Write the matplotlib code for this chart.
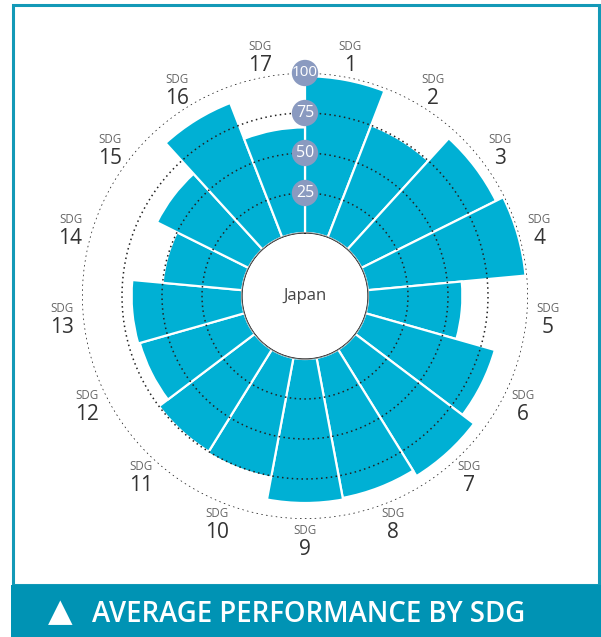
import numpy as np
import matplotlib.pyplot as plt
from matplotlib.patches import Rectangle

# Wartości (Japonia, średni wynik dla każdego SDG)
sdg_labels = [str(i) for i in range(1, 18)]
scores = [98, 75, 94, 99, 59, 84, 93, 89, 90, 76, 75, 68, 69, 50, 64, 90, 66]
ring_values = [25, 50, 75, 100]
country = "Japan"
title = "AVERAGE PERFORMANCE BY SDG"

bar_color = '#00B0D4'
frame_color = '#1399B7'
banner_color = '#0093B4'
badge_color = '#8A9AC0'

plt.rcParams['font.family'] = ['Open Sans', 'DejaVu Sans']

fig = plt.figure(figsize=(6.01, 6.37), dpi=100)

# Ramka i pasek tytułu
fig.add_artist(Rectangle((12.5 / 601, 52 / 637), 586.5 / 601, 580.5 / 637,
                         transform=fig.transFigure, fill=False,
                         edgecolor=frame_color, linewidth=2.2))
fig.add_artist(Rectangle((11 / 601, 0), 590 / 601, 52 / 637,
                         transform=fig.transFigure, facecolor=banner_color,
                         edgecolor='none'))
fig.text(60.5 / 601, 24 / 637, '▲', color='white', fontsize=23,
         ha='center', va='center', family='DejaVu Sans')
fig.text(92 / 601, 23 / 637, title, color='white', fontsize=19.8,
         fontweight='semibold', ha='left', va='center')

# Wykres biegunowy: środek (305, 296), promień 100 -> 223 px
ax = fig.add_axes([82 / 601, 118 / 637, 446 / 601, 446 / 637], projection='polar')
ax.set_theta_zero_location('N')
ax.set_theta_direction(-1)
ax.set_rorigin(-39.375)
ax.set_ylim(0, 100)

n = len(scores)
width = 2 * np.pi / n
theta = np.arange(n) * width
ax.bar(theta, scores, width=width, bottom=0, align='edge', color=bar_color,
       edgecolor='white', linewidth=1.6, zorder=2)

# Kropkowane okręgi
full = np.linspace(0, 2 * np.pi, 400)
for v in ring_values:
    ax.plot(full, [v] * len(full), color='#222222', linewidth=1.1,
            linestyle=(0, (1, 2.2)), zorder=3)
ax.plot(full, [0] * len(full), color='#b0b0b0', linewidth=0.8, zorder=3)

# Etykiety skali w kółkach
ax.scatter([0] * len(ring_values), ring_values, s=360, color=badge_color,
           zorder=5, clip_on=False, edgecolors='none')
for v in ring_values:
    ax.text(0, v, str(v), color='white', fontsize=11 if v == 100 else 11.5,
            ha='center', va='center', zorder=6)

# Etykiety SDG
for t, lab in zip(theta + width / 2, sdg_labels):
    ax.annotate('SDG', (t, 113), xytext=(0, 9.5), textcoords='offset pixels',
                ha='center', va='center', fontsize=8.3, color='#666666',
                annotation_clip=False)
    ax.annotate(lab, (t, 113), xytext=(0, -9.5), textcoords='offset pixels',
                ha='center', va='center', fontsize=15, color='#333333',
                annotation_clip=False)

fig.text(305 / 601, 1 - 296 / 637, country, fontsize=12, color='#444444',
         ha='center', va='center')

ax.grid(False)
ax.set_xticks([])
ax.set_yticks([])
for side in ('polar', 'inner', 'start', 'end'):
    ax.spines[side].set_visible(False)
ax.patch.set_alpha(0)

fig.savefig('out.png', dpi=100)
